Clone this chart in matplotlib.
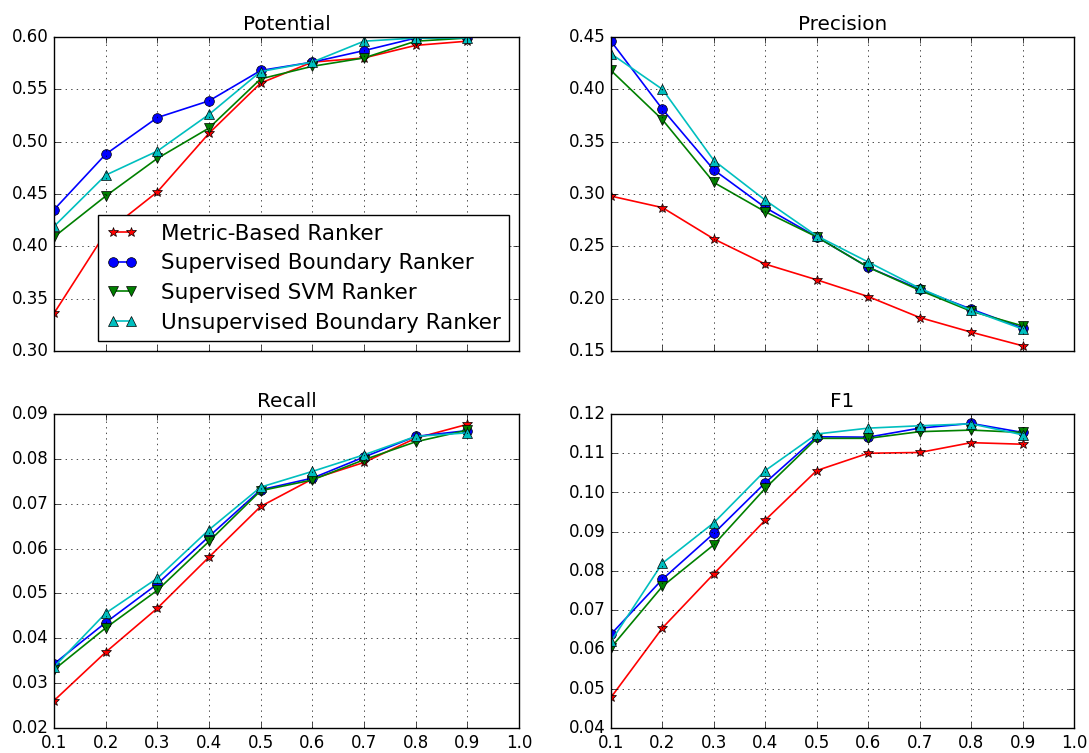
import matplotlib
matplotlib.use("Agg")
import matplotlib.pyplot as plt

plt.style.use("classic")

thresholds = [0.1, 0.2, 0.3, 0.4, 0.5, 0.6, 0.7, 0.8, 0.9]
rankers = ["Metric-Based Ranker", "Supervised Boundary Ranker",
           "Supervised SVM Ranker", "Unsupervised Boundary Ranker"]

potential_metric = [0.336, 0.413, 0.452, 0.508, 0.556, 0.576, 0.580, 0.592, 0.596]
potential_sup_boundary = [0.435, 0.488, 0.523, 0.539, 0.568, 0.576, 0.587, 0.599, 0.600]
potential_svm = [0.409, 0.448, 0.484, 0.513, 0.560, 0.572, 0.580, 0.596, 0.599]
potential_unsup = [0.419, 0.468, 0.491, 0.526, 0.567, 0.576, 0.596, 0.599, 0.599]

precision_metric = [0.298, 0.287, 0.257, 0.233, 0.218, 0.202, 0.182, 0.168, 0.155]
precision_sup_boundary = [0.446, 0.381, 0.323, 0.287, 0.259, 0.230, 0.209, 0.190, 0.172]
precision_svm = [0.418, 0.371, 0.311, 0.283, 0.259, 0.230, 0.208, 0.188, 0.174]
precision_unsup = [0.434, 0.400, 0.332, 0.294, 0.260, 0.235, 0.210, 0.189, 0.171]

recall_metric = [0.0261, 0.0369, 0.0467, 0.0581, 0.0694, 0.0755, 0.0792, 0.0846, 0.0877]
recall_sup_boundary = [0.0343, 0.0435, 0.0521, 0.0627, 0.0731, 0.0757, 0.0804, 0.0850, 0.0863]
recall_svm = [0.0330, 0.0423, 0.0507, 0.0616, 0.0729, 0.0753, 0.0798, 0.0838, 0.0864]
recall_unsup = [0.0336, 0.0456, 0.0534, 0.0642, 0.0737, 0.0772, 0.0809, 0.0850, 0.0858]

f1_metric = [0.0478, 0.0655, 0.0793, 0.0930, 0.1056, 0.1100, 0.1102, 0.1127, 0.1123]
f1_sup_boundary = [0.0639, 0.0779, 0.0896, 0.1025, 0.1142, 0.1141, 0.1164, 0.1176, 0.1153]
f1_svm = [0.0605, 0.0761, 0.0867, 0.1011, 0.1138, 0.1138, 0.1155, 0.1159, 0.1153]
f1_unsup = [0.0621, 0.0820, 0.0923, 0.1056, 0.1149, 0.1164, 0.1170, 0.1175, 0.1147]

panels = [
    ("Potential", [potential_metric, potential_sup_boundary, potential_svm, potential_unsup],
     (0.30, 0.60), [0.30, 0.35, 0.40, 0.45, 0.50, 0.55, 0.60]),
    ("Precision", [precision_metric, precision_sup_boundary, precision_svm, precision_unsup],
     (0.15, 0.45), [0.15, 0.20, 0.25, 0.30, 0.35, 0.40, 0.45]),
    ("Recall", [recall_metric, recall_sup_boundary, recall_svm, recall_unsup],
     (0.02, 0.09), [0.02, 0.03, 0.04, 0.05, 0.06, 0.07, 0.08, 0.09]),
    ("F1", [f1_metric, f1_sup_boundary, f1_svm, f1_unsup],
     (0.04, 0.12), [0.04, 0.05, 0.06, 0.07, 0.08, 0.09, 0.10, 0.11, 0.12]),
]

styles = [("r", "*"), ("b", "o"), ("g", "v"), ("c", "^")]

fig = plt.figure(figsize=(10.89, 7.53), dpi=100)
fig.patch.set_facecolor("white")

W, H = 1089.0, 753.0
# axes frames in pixel units: left, top, right, bottom
boxes = [
    (54, 37, 519, 351),
    (611, 37, 1074, 351),
    (54, 414, 519, 728),
    (611, 414, 1074, 728),
]

xticks = [0.1, 0.2, 0.3, 0.4, 0.5, 0.6, 0.7, 0.8, 0.9, 1.0]

for i, ((title, series, ylim, yticks), (x0, y0, x1, y1)) in enumerate(zip(panels, boxes)):
    ax = fig.add_axes([x0 / W, 1 - y1 / H, (x1 - x0) / W, (y1 - y0) / H])
    for vals, (col, mk), name in zip(series, styles, rankers):
        ax.plot(thresholds, vals, color=col, marker=mk, markersize=7,
                linewidth=1.2, markeredgecolor="k", markeredgewidth=0.5,
                label=name)
    ax.set_xlim(0.1, 1.0)
    ax.set_ylim(*ylim)
    ax.set_xticks(xticks)
    ax.set_yticks(yticks)
    ax.set_yticklabels(["{:.2f}".format(v) for v in yticks])
    if i < 2:
        ax.set_xticklabels([])
    else:
        ax.set_xticklabels(["{:.1f}".format(v) for v in xticks])
    ax.grid(True)
    ax.set_title(title)
    if i == 0:
        ax.legend(loc="lower right", numpoints=2, fontsize=15.5,
                  handlelength=1.4, handletextpad=1.1, borderaxespad=0.45,
                  labelspacing=0.45)

fig.savefig("out.png", dpi=100, facecolor="white")
